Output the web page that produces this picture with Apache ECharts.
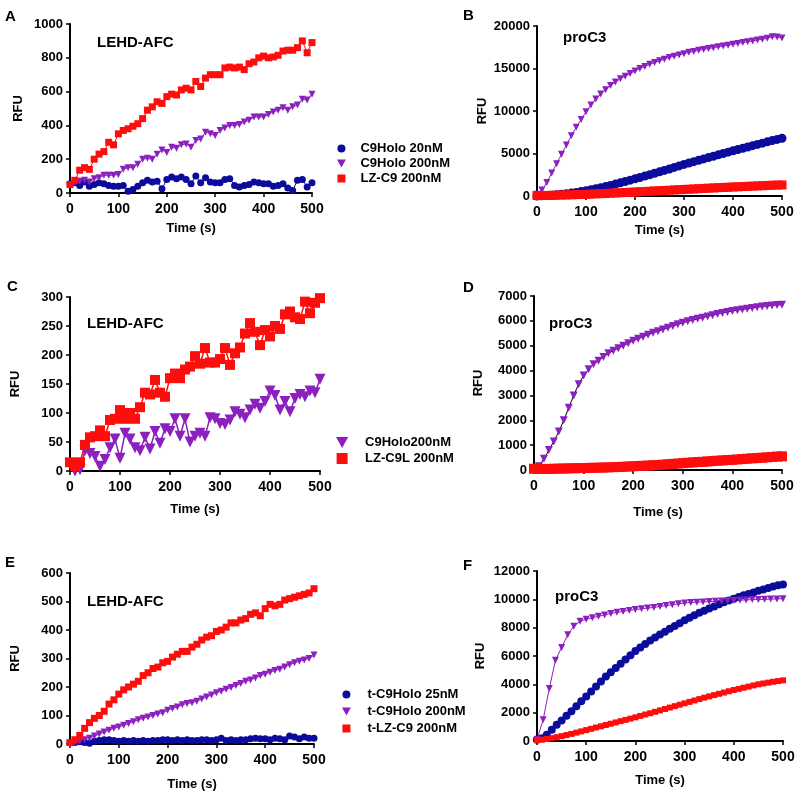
<!DOCTYPE html>
<html>
<head>
<meta charset="utf-8">
<script src="https://cdn.jsdelivr.net/npm/echarts@6/dist/echarts.min.js"></script>
<style>
  html, body { margin: 0; padding: 0; background: #fff; }
  #main { width: 800px; height: 797px; }
</style>
</head>
<body>
<div id="main"></div>
<script>
// time points (s)
const time10 = [0, 10, 20, 30, 40, 50, 60, 70, 80, 90, 100, 110, 120, 130, 140, 150, 160, 170, 180, 190, 200,
  210, 220, 230, 240, 250, 260, 270, 280, 290, 300, 310, 320, 330, 340, 350, 360, 370, 380, 390, 400,
  410, 420, 430, 440, 450, 460, 470, 480, 490, 500];
const timeF200 = [0, 12.5, 25, 37.5, 50, 62.5, 75, 87.5, 100, 112.5, 125, 137.5, 150, 162.5, 175, 187.5, 200,
  212.5, 225, 237.5, 250, 262.5, 275, 287.5, 300, 312.5, 325, 337.5, 350, 362.5, 375, 387.5, 400,
  412.5, 425, 437.5, 450, 462.5, 475, 487.5, 500];

// A - LEHD-AFC
const aHolo20 = [55, 60, 45, 65, 40, 50, 60, 55, 45, 40, 40, 45, 10, 20, 40, 60, 75, 65, 70, 25,
  80, 95, 85, 95, 80, 55, 100, 60, 90, 65, 60, 60, 80, 85, 45, 35, 45, 50, 65, 60,
  55, 55, 40, 45, 55, 30, 15, 75, 80, 35, 60];
const aHolo200 = [50, 60, 70, 75, 65, 85, 90, 105, 105, 105, 110, 140, 150, 150, 170, 200, 205, 200, 230, 255,
  240, 270, 265, 285, 290, 270, 310, 320, 360, 350, 340, 370, 385, 400, 400, 405, 420, 430, 450, 450,
  450, 465, 480, 490, 505, 490, 510, 520, 555, 550, 585];
const aLZ = [50, 75, 135, 150, 140, 200, 230, 245, 300, 285, 350, 370, 380, 395, 410, 440, 490, 510, 540, 530,
  570, 585, 580, 610, 620, 610, 660, 630, 680, 700, 700, 700, 740, 745, 740, 745, 730, 765, 775, 800,
  810, 800, 805, 815, 840, 845, 845, 860, 900, 830, 890];

// B - proC3
const bHolo20 = [0, 30, 60, 100, 150, 200, 270, 340, 420, 520, 620, 730, 850, 980, 1110, 1250, 1400, 1550, 1700, 1860,
  2020, 2180, 2340, 2500, 2670, 2840, 3010, 3180, 3360, 3540, 3720, 3880, 4040, 4200, 4360, 4520, 4680, 4840, 5000, 5160,
  5320, 5470, 5620, 5770, 5920, 6070, 6220, 6370, 6520, 6660, 6800];
const bHolo200 = [200, 700, 1600, 2700, 3800, 4900, 6000, 7100, 8100, 9000, 9900, 10700, 11400, 12000, 12500, 13000, 13400, 13800, 14100, 14400,
  14700, 15000, 15250, 15500, 15700, 15900, 16100, 16300, 16450, 16600, 16750, 16900, 17000, 17150, 17250, 17350, 17450, 17550, 17650, 17750,
  17850, 17950, 18050, 18150, 18250, 18350, 18450, 18550, 18750, 18700, 18600];
const bLZ = [50, 60, 70, 80, 95, 110, 125, 140, 160, 180, 200, 225, 250, 275, 300, 330, 360, 385, 410, 440,
  470, 500, 530, 560, 590, 620, 650, 680, 710, 740, 770, 800, 830, 860, 890, 920, 950, 980, 1005, 1030,
  1060, 1085, 1110, 1135, 1160, 1185, 1210, 1240, 1270, 1290, 1300];

// C - LEHD-AFC
const cHolo200 = [12, 0, 2, 35, 30, 25, 8, 20, 40, 55, 22, 65, 55, 40, 35, 58, 38, 68, 48, 73,
  68, 90, 60, 90, 50, 60, 65, 60, 92, 90, 82, 80, 88, 102, 98, 92, 105, 115, 108, 120,
  138, 130, 105, 120, 102, 125, 132, 128, 138, 135, 158];
const cLZ = [15, 8, 15, 45, 58, 60, 70, 60, 88, 90, 105, 90, 100, 90, 110, 135, 132, 157, 135, 128,
  160, 168, 160, 175, 180, 198, 185, 212, 187, 187, 193, 212, 183, 203, 213, 237, 255, 240, 217, 243,
  232, 250, 245, 270, 275, 265, 262, 292, 272, 290, 298];

// D - proC3
const dHolo200 = [50, 150, 450, 800, 1150, 1550, 2000, 2500, 3000, 3450, 3800, 4050, 4250, 4400, 4550, 4700, 4800, 4900, 5000, 5100,
  5200, 5280, 5360, 5440, 5520, 5580, 5650, 5720, 5790, 5860, 5920, 5980, 6030, 6080, 6130, 6180, 6230, 6280, 6320, 6360,
  6400, 6430, 6460, 6490, 6520, 6550, 6580, 6600, 6620, 6640, 6650];
const dLZ = [50, 45, 40, 45, 50, 55, 60, 65, 70, 75, 80, 85, 90, 95, 100, 105, 115, 120, 130, 140,
  150, 160, 170, 180, 190, 200, 215, 230, 245, 260, 275, 290, 305, 320, 330, 345, 360, 375, 385, 400,
  410, 425, 440, 455, 470, 480, 495, 510, 525, 540, 550];

// E - LEHD-AFC
const eHolo25 = [5, 5, 8, 5, 3, 10, 12, 15, 15, 12, 10, 12, 10, 12, 10, 12, 10, 12, 12, 15,
  15, 12, 15, 12, 15, 12, 12, 15, 15, 12, 15, 20, 12, 15, 12, 15, 15, 18, 20, 18,
  18, 15, 20, 18, 15, 28, 25, 18, 25, 20, 20];
const eHolo200 = [0, 5, 10, 15, 20, 28, 35, 42, 48, 55, 60, 66, 72, 78, 85, 90, 95, 100, 105, 110,
  118, 125, 130, 138, 142, 145, 150, 158, 165, 172, 180, 185, 192, 198, 205, 212, 220, 225, 232, 240,
  245, 252, 258, 262, 270, 278, 285, 290, 295, 300, 312];
const eLZ = [5, 15, 30, 55, 75, 90, 100, 115, 140, 155, 175, 190, 200, 210, 220, 240, 250, 265, 270, 285,
  290, 305, 315, 325, 325, 340, 350, 365, 375, 380, 395, 400, 410, 425, 425, 435, 440, 455, 460, 450,
  475, 490, 485, 490, 505, 510, 515, 520, 525, 530, 545];

// F - proC3
const fHolo25 = [100, 200, 450, 800, 1150, 1450, 1780, 2100, 2450, 2800, 3150, 3500, 3850, 4200, 4550, 4850, 5150, 5450, 5750, 6050,
  6350, 6600, 6850, 7100, 7300, 7520, 7720, 7920, 8120, 8320, 8520, 8700, 8880, 9050, 9200, 9350, 9500, 9650, 9800, 9920,
  10050, 10170, 10280, 10380, 10480, 10600, 10700, 10800, 10900, 11000, 11050];
const fHolo200 = [100, 1500, 3700, 5700, 6600, 7500, 8100, 8450, 8600, 8700, 8800, 8900, 9000, 9080, 9150, 9220, 9280,
  9330, 9380, 9430, 9500, 9560, 9620, 9680, 9750, 9780, 9800, 9820, 9840, 9860, 9880, 9900, 9920,
  9940, 9960, 9980, 9990, 10000, 10020, 10030, 10050];
const fLZ = [50, 90, 140, 200, 270, 340, 420, 500, 590, 680, 770, 860, 950, 1040, 1130, 1220, 1310, 1400, 1490, 1580,
  1670, 1770, 1870, 1960, 2060, 2160, 2260, 2360, 2460, 2560, 2660, 2760, 2860, 2960, 3060, 3150, 3240, 3330, 3420, 3510,
  3600, 3680, 3760, 3840, 3920, 4000, 4060, 4120, 4180, 4230, 4280];

const yMax = [1000, 20000, 300, 7000, 600, 12000];
const yStep = [200, 5000, 50, 1000, 100, 2000];

const BLUE = '#0b0b9c';
const PURPLE = '#8c20bf';
const RED = '#ff0d0d';
const FONT = '"Liberation Sans", Arial, sans-serif';
const TRI_DOWN = 'path://M0,0L10,0L5,9Z';
const SQUARE = 'path://M0,0L10,0L10,10L0,10Z';

const grids = [
  { left: 70, top: 24, width: 242, height: 169 },
  { left: 537, top: 26, width: 245, height: 170 },
  { left: 70, top: 297, width: 250, height: 174 },
  { left: 534, top: 296, width: 248, height: 174 },
  { left: 70, top: 573, width: 244, height: 171 },
  { left: 537, top: 571, width: 246, height: 170 },
];
const yNameGap = [45, 48, 48, 49, 48, 50];
const xNameGap = [29, 28, 32, 36, 34, 33];

function pairs(t, v) {
  return t.map((x, i) => [x, v[i]]);
}

function mkSeries(name, g, t, vals, symbol, size, color, lineColor, lw) {
  return {
    name: name,
    type: 'line',
    xAxisIndex: g,
    yAxisIndex: g,
    data: pairs(t, vals),
    symbol: symbol,
    symbolSize: size,
    showAllSymbol: true,
    itemStyle: { color: color },
    lineStyle: { color: lineColor || color, width: lw || 1 },
    emphasis: { disabled: true },
  };
}

const xAxes = grids.map((g, i) => ({
  type: 'value', gridIndex: i, min: 0, max: 500, interval: 100,
  name: 'Time (s)', nameLocation: 'middle', nameGap: xNameGap[i],
  nameTextStyle: { fontFamily: FONT, fontWeight: 'bold', fontSize: 13, color: '#000' },
  axisLine: { show: true, onZero: true, lineStyle: { color: '#000', width: 2 } },
  axisTick: { show: true, length: 4, lineStyle: { color: '#000', width: 1.5 } },
  axisLabel: { margin: 9, fontFamily: FONT, fontWeight: 'bold', fontSize: 14, color: '#000',
    formatter: (v) => String(v) },
  splitLine: { show: false },
}));

const yAxes = grids.map((g, i) => ({
  type: 'value', gridIndex: i, min: 0, max: yMax[i], interval: yStep[i],
  name: 'RFU', nameLocation: 'middle', nameGap: yNameGap[i], nameRotate: 90,
  nameTextStyle: { fontFamily: FONT, fontWeight: 'bold', fontSize: 13, color: '#000' },
  axisLine: { show: true, lineStyle: { color: '#000', width: 2 } },
  axisTick: { show: true, length: 4, lineStyle: { color: '#000', width: 1.5 } },
  axisLabel: { margin: 7, fontFamily: FONT, fontWeight: 'bold', fontSize: 13, color: '#000',
    formatter: (v) => String(v) },
  splitLine: { show: false },
}));

function label(text, left, top) {
  return { text: text, left: left, top: top, padding: 0,
    textStyle: { fontFamily: FONT, fontWeight: 'bold', fontSize: 15, color: '#000' } };
}

function mkLegend(names, icons, left, top, iw, ih, gap) {
  return {
    orient: 'vertical', left: left, top: top, padding: 0,
    itemWidth: iw, itemHeight: ih, itemGap: gap,
    selectedMode: false,
    textStyle: { fontFamily: FONT, fontWeight: 'bold', fontSize: 13, color: '#000' },
    data: names.map((n, i) => ({ name: n, icon: icons[i] })),
  };
}

const series = [
  // A
  mkSeries('C9Holo 20nM', 0, time10, aHolo20, 'circle', 7, BLUE),
  mkSeries('C9Holo 200nM', 0, time10, aHolo200, TRI_DOWN, 7, PURPLE),
  mkSeries('LZ-C9 200nM', 0, time10, aLZ, 'rect', 7, RED),
  // B
  mkSeries('C9Holo 20nM', 1, time10, bHolo20, 'circle', 9, BLUE),
  mkSeries('C9Holo 200nM', 1, time10, bHolo200, TRI_DOWN, 7, PURPLE),
  mkSeries('LZ-C9 200nM', 1, time10, bLZ, 'rect', 9, RED),
  // C
  mkSeries('C9Holo200nM', 2, time10, cHolo200, TRI_DOWN, 11, PURPLE, null, 1.5),
  mkSeries('LZ-C9L 200nM', 2, time10, cLZ, 'rect', 10, RED, null, 1.5),
  // D
  mkSeries('C9Holo200nM', 3, time10, dHolo200, TRI_DOWN, 8, PURPLE, '#000'),
  mkSeries('LZ-C9L 200nM', 3, time10, dLZ, 'rect', 10, RED, '#000'),
  // E
  mkSeries('t-C9Holo 25nM', 4, time10, eHolo25, 'circle', 7, BLUE),
  mkSeries('t-C9Holo 200nM', 4, time10, eHolo200, TRI_DOWN, 7, PURPLE),
  mkSeries('t-LZ-C9 200nM', 4, time10, eLZ, 'rect', 7, RED),
  // F
  mkSeries('t-C9Holo 25nM', 5, time10, fHolo25, 'circle', 8, BLUE),
  mkSeries('t-C9Holo 200nM', 5, timeF200, fHolo200, TRI_DOWN, 7, PURPLE),
  mkSeries('t-LZ-C9 200nM', 5, time10, fLZ, 'rect', 6, RED),
];

const chart = echarts.init(document.getElementById('main'), null, { renderer: 'canvas' });
chart.setOption({
  animation: false,
  backgroundColor: '#fff',
  title: [
    label('A', 5, 9), label('B', 463, 8), label('C', 7, 279),
    label('D', 463, 280), label('E', 5, 555), label('F', 463, 558),
    label('LEHD-AFC', 97, 35), label('proC3', 563, 30),
    label('LEHD-AFC', 87, 316), label('proC3', 549, 316),
    label('LEHD-AFC', 87, 594), label('proC3', 555, 589),
  ],
  legend: [
    mkLegend(['C9Holo 20nM', 'C9Holo 200nM', 'LZ-C9 200nM'], ['circle', TRI_DOWN, SQUARE], 337, 142, 28, 8, 2),
    mkLegend(['C9Holo200nM', 'LZ-C9L 200nM'], [TRI_DOWN, SQUARE], 336, 436, 36, 11, 3),
    mkLegend(['t-C9Holo 25nM', 't-C9Holo 200nM', 't-LZ-C9 200nM'], ['circle', TRI_DOWN, SQUARE], 342, 688, 32, 8, 4),
  ],
  grid: grids,
  xAxis: xAxes,
  yAxis: yAxes,
  series: series,
});
</script>
</body>
</html>
